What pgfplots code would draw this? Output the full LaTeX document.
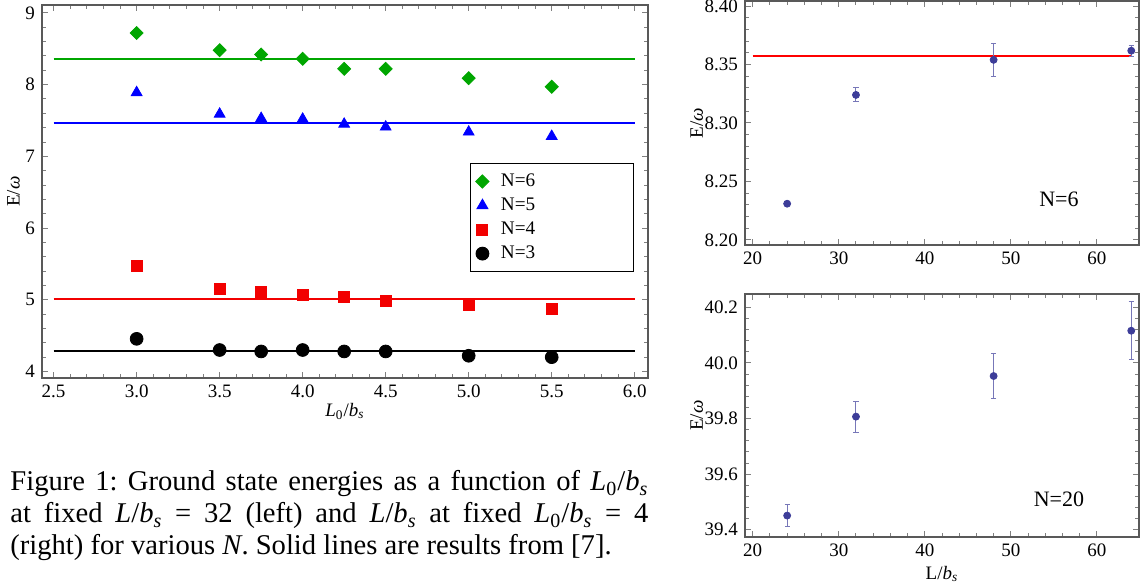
\documentclass[border=0pt]{standalone}
\usepackage{fontspec}
\setmainfont{Liberation Serif}
\newfontfamily\tickfont{Liberation Serif}
\usepackage{pgfplots}
\pgfplotsset{compat=1.18}

\definecolor{mgreen}{rgb}{0,0.65,0}
\definecolor{mblue}{rgb}{0,0,1}
\definecolor{mred}{rgb}{0.95,0,0}
\definecolor{mdot}{rgb}{0.24,0.24,0.6}
\definecolor{mframe}{gray}{0.35}

\pgfplotsset{
  mframe/.style={
    scale only axis,
    axis line style={mframe, line width=0.6pt},
    tick style={mframe, line width=0.5pt},
    major tick length=3pt,
    minor tick length=1.8pt,
    minor tick num=4,
    tick align=inside,
    ticklabel style={font=\tickfont\fontsize{9.5}{11}\selectfont},
    label style={font=\fontsize{9.5}{11}\selectfont},
  },
  rframe/.style={
    mframe,
    ticklabel style={font=\tickfont\fontsize{8.8}{10}\selectfont},
    xmin=19.1, xmax=64.9,
    xtick={20,30,40,50,60},
    xticklabels={20,30,40,50,60},
    ylabel={E/\textit{ω}},
    ylabel shift=-6pt,
    error bars/error bar style={mdot!70!white, line width=0.5pt},
    error bars/error mark=-,
    error bars/error mark options={mdot!70!white, rotate=90, mark size=1.3pt, line width=0.5pt},
  },
}

\begin{document}
\frenchspacing
\begin{tikzpicture}
\path[use as bounding box] (0,0) rectangle (570.5pt,294pt);

% left: E vs L0/bs
\begin{axis}[mframe,
  at={(21pt,105pt)}, anchor=south west,
  width=303pt, height=186.5pt,
  xmin=2.43, xmax=6.08, ymin=3.91, ymax=9.11,
  xtick={2.5,3.0,3.5,4.0,4.5,5.0,5.5,6.0},
  xticklabels={2.5,3.0,3.5,4.0,4.5,5.0,5.5,6.0},
  ytick={4,5,6,7,8,9},
  yticklabels={4,5,6,7,8,9},
  xlabel={\textit{L}\textsubscript{0}/\textit{b}\textsubscript{\textit{s}}},
  ylabel={E/\textit{ω}},
  xlabel shift=-4pt,
  ylabel shift=-4pt,
  legend style={at={(0.707,0.576)}, anchor=north west, draw=black, line width=0.5pt,
    font=\fontsize{9.6}{10}\selectfont, row sep=0.2pt, inner ysep=3pt, inner xsep=2.5pt},
  legend cell align=left,
]
\addplot[only marks, mgreen, mark=square*, mark size=2.3pt, mark options={rotate=45},
  error bars/.cd, y dir=minus, y explicit, error mark=none]
  coordinates {(3,8.72) (3.5,8.48) (3.75,8.42) (4,8.36) (4.25,8.22) (4.5,8.22) +- (0,0.05) (5,8.09) (5.5,7.97)};
\addplot[only marks, mblue, mark=triangle*, mark size=3.1pt]
  coordinates {(3,7.89) (3.5,7.59) (3.75,7.53) (4,7.52) (4.25,7.45) (4.5,7.41) (5,7.34) (5.5,7.28)};
\addplot[only marks, mred, mark=square*, mark size=2.75pt]
  coordinates {(3,5.47) (3.5,5.15) (3.75,5.11) (4,5.07) (4.25,5.04) (4.5,4.99) (5,4.93) (5.5,4.87)};
\addplot[only marks, black, mark=*, mark size=3.2pt]
  coordinates {(3,4.456) (3.5,4.30) (3.75,4.28) (4,4.30) (4.25,4.28) (4.5,4.28) (5,4.22) (5.5,4.20)};
\addplot[mgreen, line width=1pt, forget plot] coordinates {(2.5,8.36) (6.0,8.36)};
\addplot[mblue, line width=1pt, forget plot] coordinates {(2.5,7.46) (6.0,7.46)};
\addplot[mred, line width=1pt, forget plot] coordinates {(2.5,5.01) (6.0,5.01)};
\addplot[black, line width=1pt, forget plot] coordinates {(2.5,4.28) (6.0,4.28)};
\legend{\hspace*{4pt}\makebox[62pt][l]{N=6}, \hspace*{4pt}N=5, \hspace*{4pt}N=4, \hspace*{4pt}N=3}
\end{axis}

% top right: N=6
\begin{axis}[rframe,
  at={(372.5pt,171.5pt)}, anchor=south west,
  width=197pt, height=122pt,
  ymin=8.1957, ymax=8.4043,
  ytick={8.20,8.25,8.30,8.35,8.40},
  yticklabels={8.20,8.25,8.30,8.35,8.40},
]
\addplot[red, line width=1pt] coordinates {(20,8.357) (64,8.357)};
\addplot[only marks, mdot, mark=*, mark size=1.75pt,
  error bars/.cd, y dir=both, y explicit]
  coordinates {(24,8.231) +- (0,0.0005) (32,8.324) +- (0,0.006) (48,8.354) +- (0,0.0142) (64,8.3618) +- (0,0.0047)};
\node[font=\fontsize{11}{12}\selectfont] at (axis cs:55.6,8.235) {N=6};
\end{axis}

% bottom right: N=20
\begin{axis}[rframe,
  at={(372.5pt,25.5pt)}, anchor=south west,
  width=197pt, height=121.5pt,
  ymin=39.374, ymax=40.248,
  ytick={39.4,39.6,39.8,40.0,40.2},
  yticklabels={39.4,39.6,39.8,40.0,40.2},
  xlabel={L/\textit{b}\textsubscript{\textit{s}}},
  xlabel shift=-2pt,
]
\addplot[only marks, mdot, mark=*, mark size=1.75pt,
  error bars/.cd, y dir=both, y explicit]
  coordinates {(24,39.451) +- (0,0.039) (32,39.807) +- (0,0.056) (48,39.953) +- (0,0.082) (64,40.116) +- (0,0.104)};
\node[font=\fontsize{11}{12}\selectfont] at (axis cs:55.6,39.508) {N=20};
\end{axis}

% caption
\begin{scope}[every node/.style={anchor=base west, inner sep=0pt, font=\fontsize{14.3}{16}\selectfont}]
\node at (5pt,48.65pt) {\makebox[319pt][s]{Figure 1: Ground state energies as a function of \textit{L}\textsubscript{0}/\textit{b}\textsubscript{\textit{s}}}};
\node at (5pt,32.65pt) {\makebox[319pt][s]{at fixed \textit{L}/\textit{b}\textsubscript{\textit{s}} = 32 (left) and \textit{L}/\textit{b}\textsubscript{\textit{s}} at fixed \textit{L}\textsubscript{0}/\textit{b}\textsubscript{\textit{s}} = 4}};
\node at (5pt,16.65pt) {(right) for various \textit{N}. Solid lines are results from [7].};
\end{scope}
\end{tikzpicture}
\end{document}
